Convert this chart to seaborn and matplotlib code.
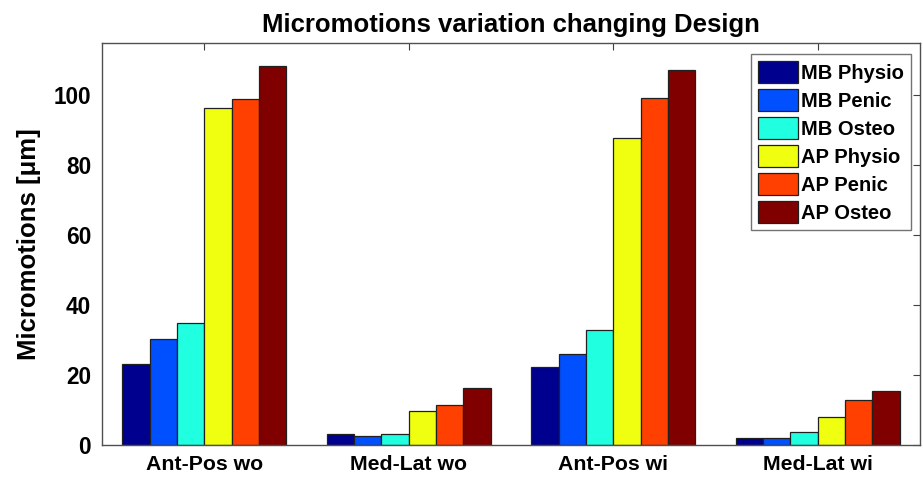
import matplotlib
matplotlib.use("Agg")
import matplotlib.pyplot as plt
import seaborn as sns
import pandas as pd

categories = ["Ant-Pos wo", "Med-Lat wo", "Ant-Pos wi", "Med-Lat wi"]
series_names = ["MB Physio", "MB Penic", "MB Osteo", "AP Physio", "AP Penic", "AP Osteo"]
mb_physio = [23.1, 3.1, 22.3, 2.1]
mb_penic = [30.2, 2.7, 26.1, 2.1]
mb_osteo = [35.0, 3.1, 33.0, 3.8]
ap_physio = [96.3, 9.6, 87.7, 7.9]
ap_penic = [98.9, 11.4, 99.4, 12.8]
ap_osteo = [108.3, 16.2, 107.3, 15.5]
y_ticks = [0, 20, 40, 60, 80, 100]
colors = ["#00008F", "#0050FF", "#20FFDF", "#F0FF10", "#FF4000", "#800000"]

all_series = [mb_physio, mb_penic, mb_osteo, ap_physio, ap_penic, ap_osteo]
rows = []
for name, vals in zip(series_names, all_series):
    for cat, v in zip(categories, vals):
        rows.append({"Category": cat, "Series": name, "Value": v})
df = pd.DataFrame(rows)

sns.set_theme(style="white")
plt.rcParams["font.family"] = ["Liberation Sans", "DejaVu Sans"]
plt.rcParams["font.weight"] = "bold"
for k in ["text.color", "axes.labelcolor", "xtick.labelcolor", "ytick.labelcolor"]:
    plt.rcParams[k] = "black"

fig = plt.figure(figsize=(9.23, 4.78), dpi=100)
ax = fig.add_axes([102 / 923, 1 - 445 / 478, 818 / 923, (445 - 43) / 478])

sns.barplot(data=df, x="Category", y="Value", hue="Series", order=categories,
            hue_order=series_names, palette=colors, width=0.8, saturation=1,
            edgecolor="#202020", linewidth=0.9, ax=ax, errorbar=None)

ax.set_xlim(-0.5, 3.5)
ax.set_ylim(0, 115)
ax.set_yticks(y_ticks)
ax.set_xlabel("")
ax.set_ylabel("Micromotions [\u03bcm]", fontsize=18.5, fontweight="bold", labelpad=9)
ax.set_title("Micromotions variation changing Design", fontsize=18.5, fontweight="bold", pad=8)
ax.tick_params(direction="in", top=True, right=True, length=5, width=0.8,
               color="#404040")
ax.tick_params(axis="x", labelsize=15.3, pad=7)
ax.tick_params(axis="y", labelsize=16.3, pad=8)
for lab in ax.get_xticklabels() + ax.get_yticklabels():
    lab.set_fontweight("bold")
for s in ax.spines.values():
    s.set_color("#505050")
    s.set_linewidth(1.0)

leg = ax.legend(loc="upper right", bbox_to_anchor=(0.9895, 0.972), frameon=True,
                fancybox=False, fontsize=14.5, handlelength=2.0, handleheight=1.3,
                labelspacing=0.3, handletextpad=0.15, borderpad=0.35, borderaxespad=0)
leg.get_frame().set_edgecolor("#505050")
leg.get_frame().set_linewidth(1.0)
for t in leg.get_texts():
    t.set_fontweight("bold")

fig.savefig("out.png", dpi=100)
